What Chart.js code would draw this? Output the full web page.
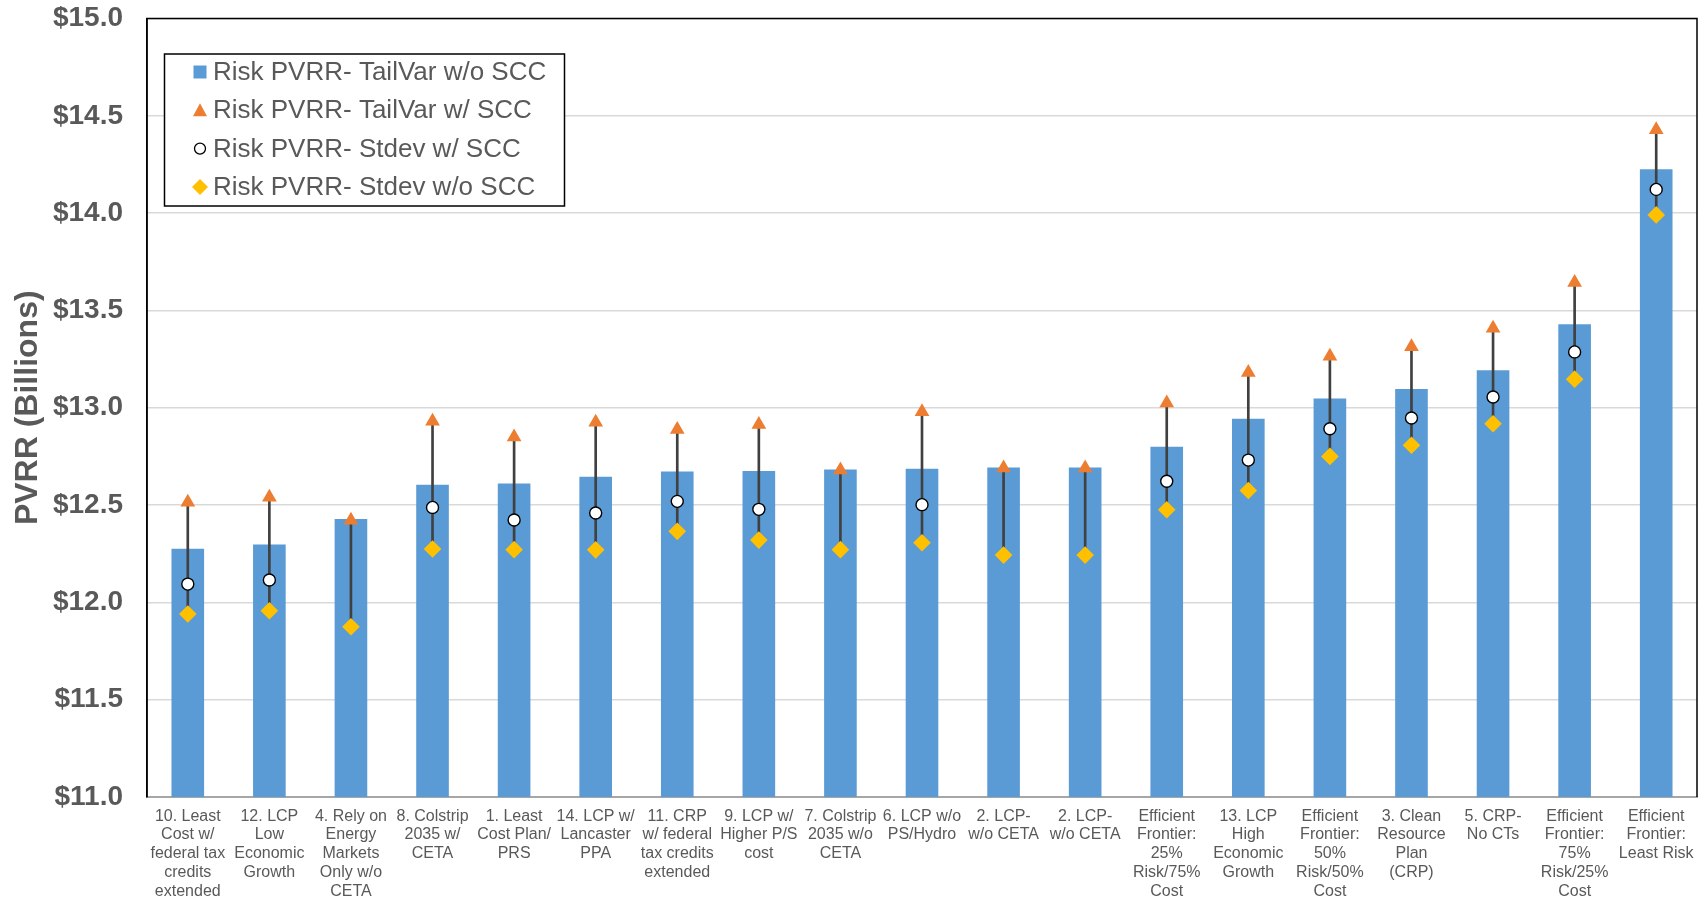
<!DOCTYPE html>
<html>
<head>
<meta charset="utf-8">
<title>Risk PVRR by Portfolio</title>
<script src="https://cdn.jsdelivr.net/npm/chart.js@4/dist/chart.umd.min.js"></script>
<style>
  html, body { margin: 0; padding: 0; background: #ffffff; }
  #wrap { width: 1708px; height: 901px; }
</style>
</head>
<body>
<div id="wrap"><canvas id="chart" width="1708" height="901"></canvas></div>
<script>
// Portfolio names (wrapped as they appear under the axis)
const categories = [
  ["10. Least", "Cost w/", "federal tax", "credits", "extended"],
  ["12. LCP", "Low", "Economic", "Growth"],
  ["4. Rely on", "Energy", "Markets", "Only w/o", "CETA"],
  ["8. Colstrip", "2035 w/", "CETA"],
  ["1. Least", "Cost Plan/", "PRS"],
  ["14. LCP w/", "Lancaster", "PPA"],
  ["11. CRP", "w/ federal", "tax credits", "extended"],
  ["9. LCP w/", "Higher P/S", "cost"],
  ["7. Colstrip", "2035 w/o", "CETA"],
  ["6. LCP w/o", "PS/Hydro"],
  ["2. LCP-", "w/o CETA"],
  ["2. LCP-", "w/o CETA"],
  ["Efficient", "Frontier:", "25%", "Risk/75%", "Cost"],
  ["13. LCP", "High", "Economic", "Growth"],
  ["Efficient", "Frontier:", "50%", "Risk/50%", "Cost"],
  ["3. Clean", "Resource", "Plan", "(CRP)"],
  ["5. CRP-", "No CTs"],
  ["Efficient", "Frontier:", "75%", "Risk/25%", "Cost"],
  ["Efficient", "Frontier:", "Least Risk"]
];

// Risk PVRR, $ billions
const tailVarNoScc = [12.276, 12.298, 12.428, 12.605, 12.611, 12.646, 12.673, 12.675, 12.683, 12.687,
                      12.693, 12.693, 12.800, 12.944, 13.048, 13.096, 13.193, 13.429, 14.226];
const tailVarScc   = [12.515, 12.540, 12.422, 12.930, 12.850, 12.926, 12.888, 12.914, 12.680, 12.980,
                      12.691, 12.691, 13.025, 13.181, 13.265, 13.314, 13.408, 13.643, 14.429];
const stdevScc     = [12.094, 12.115, null, 12.488, 12.423, 12.459, 12.519, 12.478, null, 12.502,
                      null, null, 12.622, 12.731, 12.892, 12.947, 13.055, 13.287, 14.122];
const stdevNoScc   = [11.940, 11.957, 11.875, 12.274, 12.271, 12.270, 12.365, 12.320, 12.271, 12.306,
                      12.243, 12.243, 12.476, 12.575, 12.750, 12.807, 12.918, 13.147, 13.991];

const yTicks = [11.0, 11.5, 12.0, 12.5, 13.0, 13.5, 14.0, 14.5, 15.0];

const seriesNames = [
  "Risk PVRR- TailVar w/o SCC",
  "Risk PVRR- TailVar w/ SCC",
  "Risk PVRR- Stdev w/ SCC",
  "Risk PVRR- Stdev w/o SCC"
];

// High-low span across the three marker series for each portfolio
const highLow = categories.map((_, i) => {
  const vals = [tailVarScc[i], stdevScc[i], stdevNoScc[i]].filter(v => v !== null);
  return [Math.min(...vals), Math.max(...vals)];
});

const FONT = "'Liberation Sans', Arial, sans-serif";
const GREY_TEXT = "#595959";

// Frame around the plot area (top / right edges) and the boxed legend
const framePlugin = {
  id: 'frame',
  beforeDatasetsDraw(chart) {
    const { ctx, chartArea: a } = chart;
    ctx.save();
    ctx.strokeStyle = '#000000';
    ctx.lineWidth = 1.5;
    ctx.beginPath();
    ctx.moveTo(a.left, a.bottom);
    ctx.lineTo(a.left, a.top);
    ctx.lineTo(a.right, a.top);
    ctx.lineTo(a.right, a.bottom);
    ctx.stroke();
    ctx.restore();
  },
  afterDraw(chart) {
    const { ctx, chartArea: a } = chart;
    const bx = a.left + 17.5, by = a.top + 35.5, bw = 400, bh = 152;
    ctx.save();
    ctx.fillStyle = '#ffffff';
    ctx.fillRect(bx, by, bw, bh);
    ctx.strokeStyle = '#000000';
    ctx.lineWidth = 1.5;
    ctx.strokeRect(bx, by, bw, bh);

    const ds = chart.data.datasets;
    const entries = [ds[0], ds[2], ds[3], ds[4]];
    const mx = bx + 35.5;
    entries.forEach((d, i) => {
      const cy = by + 18 + i * 38.3;
      ctx.beginPath();
      if (i === 0) {
        ctx.fillStyle = d.backgroundColor;
        ctx.fillRect(mx - 6.5, cy - 6.5, 13, 13);
      } else if (i === 1) {
        ctx.fillStyle = d.pointBackgroundColor;
        ctx.moveTo(mx, cy - 7);
        ctx.lineTo(mx + 7, cy + 6);
        ctx.lineTo(mx - 7, cy + 6);
        ctx.closePath();
        ctx.fill();
      } else if (i === 2) {
        ctx.fillStyle = d.pointBackgroundColor;
        ctx.strokeStyle = d.pointBorderColor;
        ctx.lineWidth = 1.3;
        ctx.arc(mx, cy, 5.5, 0, Math.PI * 2);
        ctx.fill();
        ctx.stroke();
      } else {
        ctx.fillStyle = d.pointBackgroundColor;
        ctx.moveTo(mx, cy - 8);
        ctx.lineTo(mx + 8, cy);
        ctx.lineTo(mx, cy + 8);
        ctx.lineTo(mx - 8, cy);
        ctx.closePath();
        ctx.fill();
      }
      ctx.fillStyle = GREY_TEXT;
      ctx.font = "26px " + FONT;
      ctx.textBaseline = 'middle';
      ctx.textAlign = 'left';
      ctx.fillText(d.label, mx + 13, cy + 1);
    });
    ctx.restore();
  }
};

new Chart(document.getElementById('chart'), {
  data: {
    labels: categories,
    datasets: [
      {
        type: 'bar',
        label: seriesNames[0],
        data: tailVarNoScc,
        backgroundColor: '#5B9BD5',
        barPercentage: 0.4,
        categoryPercentage: 1.0,
        grouped: false,
        order: 10
      },
      {
        type: 'bar',
        label: 'High-Low',
        data: highLow,
        backgroundColor: '#404040',
        barThickness: 2,
        grouped: false,
        order: 5
      },
      {
        type: 'line',
        label: seriesNames[1],
        data: tailVarScc,
        showLine: false,
        pointStyle: 'triangle',
        pointRadius: 8.5,
        pointBackgroundColor: '#ED7D31',
        pointBorderColor: '#ED7D31',
        pointBorderWidth: 0,
        order: 3
      },
      {
        type: 'line',
        label: seriesNames[2],
        data: stdevScc,
        showLine: false,
        pointStyle: 'circle',
        pointRadius: 6,
        pointBackgroundColor: '#FFFFFF',
        pointBorderColor: '#000000',
        pointBorderWidth: 1.4,
        order: 1
      },
      {
        type: 'line',
        label: seriesNames[3],
        data: stdevNoScc,
        showLine: false,
        pointStyle: 'rectRot',
        pointRadius: 8.8,
        pointBackgroundColor: '#FFC000',
        pointBorderColor: '#FFC000',
        pointBorderWidth: 0,
        order: 2
      }
    ]
  },
  options: {
    responsive: false,
    animation: false,
    devicePixelRatio: 1,
    layout: { padding: { top: 18.5, right: 11, left: 0, bottom: 0 } },
    plugins: {
      legend: { display: false },
      tooltip: { enabled: false }
    },
    scales: {
      x: {
        offset: true,
        grid: { display: false, drawTicks: false },
        border: { display: true, color: '#A6A6A6', width: 2 },
        ticks: {
          autoSkip: false,
          maxRotation: 0,
          minRotation: 0,
          padding: 10,
          color: GREY_TEXT,
          font: { family: FONT, size: 16, lineHeight: 1.17 }
        },
        afterFit(scale) { scale.height = 104; }
      },
      y: {
        min: 11,
        max: 15,
        afterBuildTicks(scale) { scale.ticks = yTicks.map(v => ({ value: v })); },
        grid: {
          color: '#D9D9D9',
          lineWidth: 1.5,
          drawTicks: true,
          tickLength: 24,
          tickColor: 'rgba(0,0,0,0)'
        },
        border: { display: true, color: '#000000', width: 1.5 },
        ticks: {
          padding: 0,
          color: GREY_TEXT,
          font: { family: FONT, size: 28, weight: 'bold', lineHeight: 1.0 },
          callback: v => '$' + Number(v).toFixed(1)
        },
        title: {
          display: true,
          text: 'PVRR (Billions)',
          color: GREY_TEXT,
          font: { family: FONT, size: 32, weight: 'bold' },
          padding: { top: 9, bottom: 0 }
        },
        afterFit(scale) { scale.width = 147; }
      }
    }
  },
  plugins: [framePlugin]
});
</script>
</body>
</html>
